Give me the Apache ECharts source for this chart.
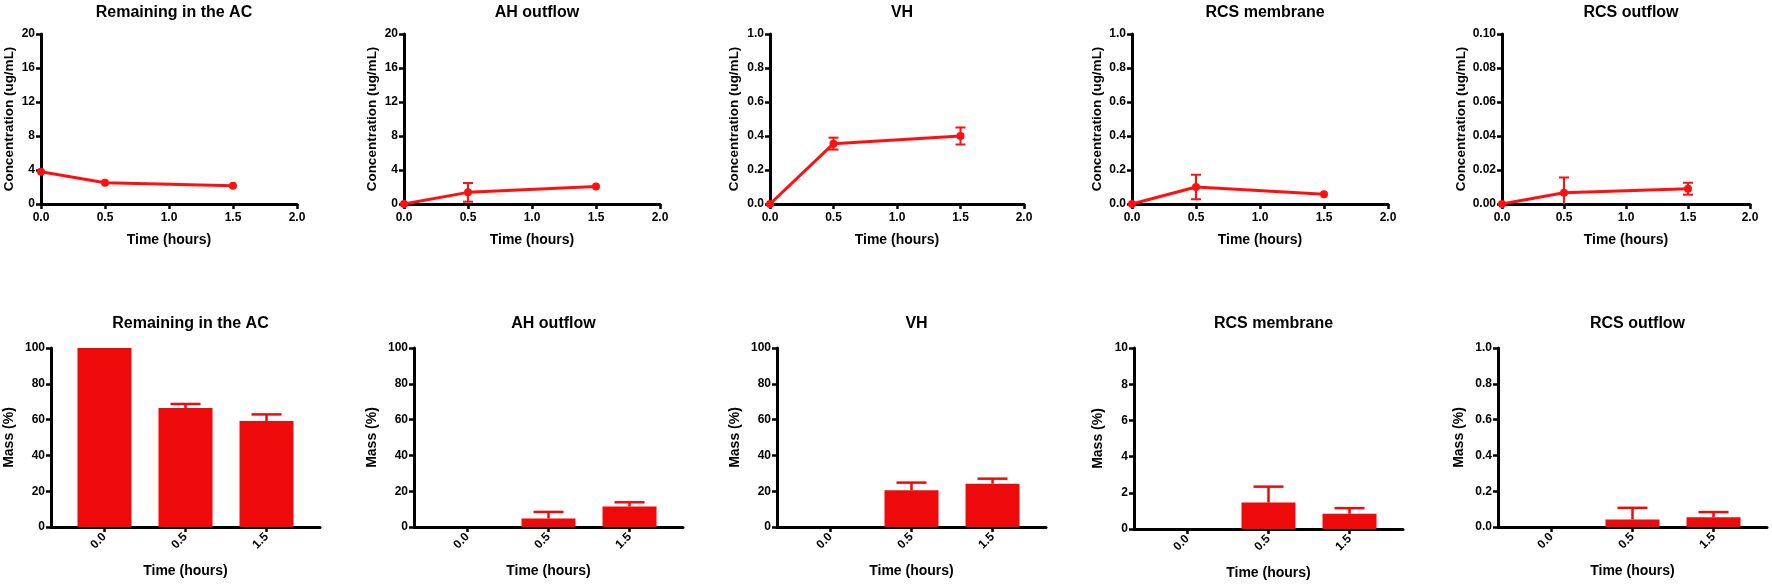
<!DOCTYPE html>
<html><head><meta charset="utf-8">
<script src="https://cdn.jsdelivr.net/npm/echarts@6/dist/echarts.min.js"></script>
<style>html,body{margin:0;padding:0;background:#fff}#c{width:1772px;height:587px}</style>
</head><body><div id="c"></div>
<script>
// ---------- data ----------
const panelTitles = ['Remaining in the AC', 'AH outflow', 'VH', 'RCS membrane', 'RCS outflow'];
const lineTimes = [0, 0.5, 1.5];
const xTickLabels = ['0.0', '0.5', '1.0', '1.5', '2.0'];
const barCats = ['0.0', '0.5', '1.5'];

// concentration (ug/mL): mean and SD
const concAC = [3.8, 2.5, 2.15];      const concAC_sd = [0, 0, 0];
const concAH = [0, 1.37, 2.05];       const concAH_sd = [0, 1.1, 0];
const concVH = [0, 0.355, 0.40];      const concVH_sd = [0, 0.035, 0.05];
const concMem = [0, 0.10, 0.057];     const concMem_sd = [0, 0.072, 0];
const concOut = [0, 0.0066, 0.009];   const concOut_sd = [0, 0.009, 0.0035];

// mass (%): mean and SD
const massAC = [100, 66.5, 59.2];     const massAC_sd = [0, 2.2, 3.7];
const massAH = [0, 4.8, 11.5];        const massAH_sd = [0, 3.6, 2.3];
const massVH = [0, 20.5, 24.2];       const massVH_sd = [0, 4.3, 2.8];
const massMem = [0, 1.46, 0.84];      const massMem_sd = [0, 0.88, 0.31];
const massOut = [0, 0.042, 0.055];    const massOut_sd = [0, 0.065, 0.028];

const concMax = [20, 20, 1, 1, 0.1];
const concStep = [4, 4, 0.2, 0.2, 0.02];
const concDec = [0, 0, 1, 1, 2];
const massMax = [100, 100, 100, 10, 1];
const massStep = [20, 20, 20, 2, 0.2];
const massDec = [0, 0, 0, 0, 1];

const concSets = [[concAC, concAC_sd], [concAH, concAH_sd], [concVH, concVH_sd], [concMem, concMem_sd], [concOut, concOut_sd]];
const massSets = [[massAC, massAC_sd], [massAH, massAH_sd], [massVH, massVH_sd], [massMem, massMem_sd], [massOut, massOut_sd]];

// ---------- layout / style ----------
const FONT = '"Liberation Sans", Arial, Helvetica, sans-serif';
const topLayout = [
  {left: 41, top: 34, width: 256, height: 170, yGap: 25},
  {left: 404, top: 34, width: 256, height: 170, yGap: 25},
  {left: 770, top: 34, width: 254, height: 170, yGap: 29},
  {left: 1132, top: 34, width: 256, height: 170, yGap: 28},
  {left: 1502, top: 34, width: 248, height: 170, yGap: 34}
];
const botLayout = [
  {left: 51, top: 348, width: 269, height: 179, yGap: 35},
  {left: 414, top: 348, width: 269, height: 179, yGap: 35},
  {left: 777, top: 348, width: 269, height: 179, yGap: 35},
  {left: 1134, top: 348, width: 269, height: 181, yGap: 29},
  {left: 1498, top: 348, width: 269, height: 179, yGap: 32}
];
const LINE_RED = '#FF1010';
const BAR_RED = '#EE0A0A';

const axisLine = {show: true, onZero: false, lineStyle: {color: '#000', width: 3}};
const axisTick = {show: true, inside: false, length: 5, lineStyle: {color: '#000', width: 2.5}};
const labelStyle = {color: '#000', fontFamily: FONT, fontWeight: 'bold', fontSize: 12};
const nameStyle = {color: '#000', fontFamily: FONT, fontWeight: 'bold', fontSize: 14};

function errRenderTop(params, api) {
  const x = api.value(0), m = api.value(1), s = api.value(2);
  if (!s) return null;
  const hiV = m + s, loV = m - s;
  const hi = api.coord([x, hiV]);
  const lo = api.coord([x, Math.max(loV, 0)]);
  const cap = 5;
  const st = {stroke: LINE_RED, lineWidth: 2};
  const children = [
    {type: 'line', shape: {x1: hi[0], y1: hi[1], x2: lo[0], y2: lo[1]}, style: st},
    {type: 'line', shape: {x1: hi[0] - cap, y1: hi[1], x2: hi[0] + cap, y2: hi[1]}, style: st}
  ];
  if (loV > 0) children.push({type: 'line', shape: {x1: lo[0] - cap, y1: lo[1], x2: lo[0] + cap, y2: lo[1]}, style: st});
  return {type: 'group', children};
}
function errRenderBar(params, api) {
  const x = api.value(0), m = api.value(1), s = api.value(2);
  if (!s) return null;
  const hi = api.coord([x, m + s]);
  const lo = api.coord([x, m]);
  const cap = 15;
  const st = {stroke: BAR_RED, lineWidth: 2.5};
  return {type: 'group', children: [
    {type: 'line', shape: {x1: hi[0], y1: hi[1], x2: lo[0], y2: lo[1]}, style: st},
    {type: 'line', shape: {x1: hi[0] - cap, y1: hi[1], x2: hi[0] + cap, y2: hi[1]}, style: st}
  ]};
}

const grid = [], xAxis = [], yAxis = [], series = [], title = [];

// top row: concentration line charts
topLayout.forEach((g, i) => {
  grid.push({left: g.left, top: g.top, width: g.width, height: g.height, containLabel: false});
  title.push({text: panelTitles[i], left: g.left + g.width / 2, top: 0, textAlign: 'center',
    textStyle: {color: '#000', fontFamily: FONT, fontWeight: 'bold', fontSize: 16}});
  xAxis.push({type: 'value', gridIndex: i, min: 0, max: 2, interval: 0.5,
    axisLine, axisTick, splitLine: {show: false},
    axisLabel: Object.assign({margin: 8, formatter: v => xTickLabels[Math.round(v * 2)]}, labelStyle),
    name: 'Time (hours)', nameLocation: 'middle', nameGap: 29, nameTextStyle: nameStyle});
  yAxis.push({type: 'value', gridIndex: i, min: 0, max: concMax[i], interval: concStep[i],
    axisLine, axisTick, splitLine: {show: false},
    axisLabel: Object.assign({margin: 6, formatter: v => v.toFixed(concDec[i])}, labelStyle),
    name: 'Concentration (ug/mL)', nameLocation: 'middle', nameGap: g.yGap,
    nameTextStyle: Object.assign({}, nameStyle, {fontSize: 13.5})});
  const [mean, sd] = concSets[i];
  series.push({type: 'line', xAxisIndex: i, yAxisIndex: i,
    data: lineTimes.map((t, k) => [t, mean[k]]),
    symbol: 'circle', symbolSize: 8, color: LINE_RED,
    itemStyle: {color: LINE_RED}, lineStyle: {color: LINE_RED, width: 3}, z: 3, animation: false});
  series.push({type: 'custom', xAxisIndex: i, yAxisIndex: i, renderItem: errRenderTop,
    data: lineTimes.map((t, k) => [t, mean[k], sd[k]]), z: 4, animation: false});
});

// bottom row: mass bar charts
botLayout.forEach((g, j) => {
  const i = j + 5;
  grid.push({left: g.left, top: g.top, width: g.width, height: g.height, containLabel: false});
  title.push({text: panelTitles[j], left: g.left + g.width / 2, top: 311, textAlign: 'center',
    textStyle: {color: '#000', fontFamily: FONT, fontWeight: 'bold', fontSize: 16}});
  xAxis.push({type: 'value', gridIndex: i, min: -0.66, max: 2.66,
    axisLine, splitLine: {show: false},
    axisTick: Object.assign({}, axisTick, {customValues: [0, 1, 2]}),
    axisLabel: Object.assign({margin: 8, rotate: 45, customValues: [0, 1, 2],
      formatter: v => barCats[Math.round(v)]}, labelStyle),
    name: 'Time (hours)', nameLocation: 'middle', nameGap: 37, nameTextStyle: nameStyle});
  yAxis.push({type: 'value', gridIndex: i, min: 0, max: massMax[j], interval: massStep[j],
    axisLine, axisTick, splitLine: {show: false},
    axisLabel: Object.assign({margin: 6, formatter: v => v.toFixed(massDec[j])}, labelStyle),
    name: 'Mass (%)', nameLocation: 'middle', nameGap: g.yGap, nameTextStyle: nameStyle});
  const [mean, sd] = massSets[j];
  series.push({type: 'bar', xAxisIndex: i, yAxisIndex: i,
    data: barCats.map((c, k) => [k, mean[k]]), barWidth: 54,
    itemStyle: {color: BAR_RED}, z: 2, animation: false});
  series.push({type: 'custom', xAxisIndex: i, yAxisIndex: i, renderItem: errRenderBar,
    data: barCats.map((c, k) => [k, mean[k], sd[k]]), z: 4, animation: false});
});

const chart = echarts.init(document.getElementById('c'), null, {renderer: 'canvas'});
chart.setOption({backgroundColor: '#fff', animation: false, title, grid, xAxis, yAxis, series});
</script>
</body></html>
